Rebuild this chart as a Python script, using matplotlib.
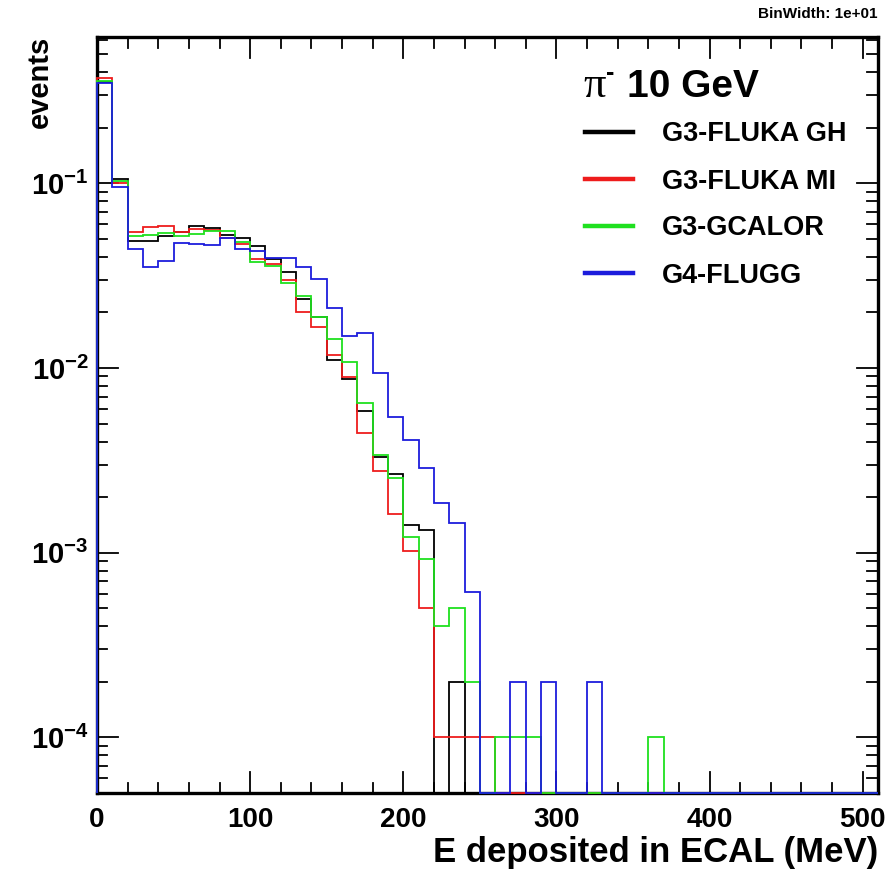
import numpy as np
import matplotlib
matplotlib.use("Agg")
import matplotlib.pyplot as plt
from matplotlib.lines import Line2D
from matplotlib.transforms import blended_transform_factory

plt.rcParams['font.family'] = ['Liberation Sans', 'DejaVu Sans']
plt.rcParams['mathtext.fontset'] = 'custom'
plt.rcParams['mathtext.bf'] = 'Liberation Sans:bold'
plt.rcParams['mathtext.rm'] = 'Liberation Sans'

# 10 MeV bins, 0 - 510 MeV
edges = np.arange(0, 520, 10)

g3_fluka_gh = [0.355, 0.105, 0.0489, 0.049, 0.052, 0.0547, 0.059, 0.057, 0.0525, 0.0503,
               0.0458, 0.039, 0.033, 0.0235, 0.019, 0.011, 0.00875, 0.00587, 0.00329, 0.00267,
               0.00141, 0.00132, 0, 2e-4, 0, 0, 0, 0, 0, 0,
               0, 0, 0, 0, 0, 0, 0, 0, 0, 0,
               0, 0, 0, 0, 0, 0, 0, 0, 0, 0, 0]
g3_fluka_mi = [0.37, 0.101, 0.0542, 0.0577, 0.059, 0.0547, 0.0565, 0.0561, 0.0509, 0.047,
               0.0388, 0.0365, 0.030, 0.0202, 0.0167, 0.0117, 0.0089, 0.00447, 0.00276, 0.00163,
               0.00102, 0.000505, 1e-4, 1e-4, 1e-4, 1e-4, 0, 0, 0, 0,
               0, 0, 0, 0, 0, 0, 0, 0, 0, 0,
               0, 0, 0, 0, 0, 0, 0, 0, 0, 0, 0]
g3_gcalor = [0.36, 0.103, 0.052, 0.0525, 0.0538, 0.052, 0.053, 0.0554, 0.0554, 0.0482,
             0.0375, 0.0357, 0.029, 0.0244, 0.019, 0.0143, 0.0108, 0.00644, 0.0034, 0.00255,
             0.00122, 0.00092, 0.0004, 0.0005, 2e-4, 0, 1e-4, 1e-4, 1e-4, 0,
             0, 0, 0, 0, 0, 0, 1e-4, 0, 0, 0,
             0, 0, 0, 0, 0, 0, 0, 0, 0, 0, 0]
g4_flugg = [0.35, 0.096, 0.0439, 0.0353, 0.038, 0.0474, 0.047, 0.0462, 0.0509, 0.0439,
            0.043, 0.0396, 0.0396, 0.0353, 0.0304, 0.0211, 0.0149, 0.0155, 0.0094, 0.0054,
            0.0041, 0.00288, 0.00185, 0.00144, 0.00061, 0, 0, 2e-4, 0, 2e-4,
            0, 0, 2e-4, 0, 0, 0, 0, 0, 0, 0,
            0, 0, 0, 0, 0, 0, 0, 0, 0, 0, 0]

labels = ["G3-FLUKA GH", "G3-FLUKA MI", "G3-GCALOR", "G4-FLUGG"]
colors = ["#000000", "#ee1c1c", "#1fe01f", "#1c1cdc"]
series = [g3_fluka_gh, g3_fluka_mi, g3_gcalor, g4_flugg]

ymin, ymax = 5e-5, 0.62
W, H = 895, 873
ax_l, ax_r, ax_t, ax_b = 97, 878, 37, 793

fig = plt.figure(figsize=(W / 100, H / 100), dpi=100)
ax = fig.add_axes([ax_l / W, 1 - ax_b / H, (ax_r - ax_l) / W, (ax_b - ax_t) / H])
ax.set_yscale("log")

for vals, c in zip(series, colors):
    v = np.array(vals, dtype=float)
    v[v <= 0] = ymin  # empty bins sit on the frame, ROOT style
    ax.stairs(v, edges, baseline=ymin, fill=False, color=c, linewidth=1.3,
              clip_on=False, zorder=5)

for s in ax.spines.values():
    s.set_linewidth(2.4)
    s.set_zorder(4)

# ROOT-like ticks drawn on all four sides, pointing inwards
tick_w = 1.3
maj_px, min_px = 21.0, 10.5
tx = blended_transform_factory(ax.transData, ax.transAxes)
ty = blended_transform_factory(ax.transAxes, ax.transData)
hx = (ax_b - ax_t)
wx = (ax_r - ax_l)

xmajor = list(range(0, 501, 100))
xminor = [t for t in range(20, 511, 20) if t % 100]
for x in xmajor + xminor:
    ln = (maj_px if x in xmajor else min_px) / hx
    ax.plot([x, x], [0, ln], transform=tx, color="k", lw=tick_w, clip_on=False, zorder=3)
    ax.plot([x, x], [1 - ln, 1], transform=tx, color="k", lw=tick_w, clip_on=False, zorder=3)

ymajor = [1e-4, 1e-3, 1e-2, 1e-1]
yminor = [m * 10.0 ** e for e in range(-5, 0) for m in range(2, 10)]
yminor = [m for m in yminor if ymin < m < ymax]
for y in ymajor + yminor:
    ln = (maj_px if y in ymajor else min_px) / wx
    ax.plot([0, ln], [y, y], transform=ty, color="k", lw=tick_w, clip_on=False, zorder=3)
    ax.plot([1 - ln, 1], [y, y], transform=ty, color="k", lw=tick_w, clip_on=False, zorder=3)

ax.set_xlim(0, 510)
ax.set_ylim(ymin, ymax)

ax.set_xticks(xmajor)
ax.set_xticklabels([str(t) for t in xmajor])
ax.set_yticks(ymajor)
ax.set_yticklabels([r"$\mathbf{10^{-4}}$", r"$\mathbf{10^{-3}}$",
                    r"$\mathbf{10^{-2}}$", r"$\mathbf{10^{-1}}$"])
ax.minorticks_off()
ax.tick_params(which="major", length=0)
ax.tick_params(axis="x", pad=10, labelsize=20)
ax.tick_params(axis="y", pad=6, labelsize=21)
for lab in ax.get_xticklabels():
    lab.set_fontweight("bold")

fig.text(878 / W, 1 - 862 / H, "E deposited in ECAL (MeV)", ha="right", va="baseline",
         fontsize=25, fontweight="bold")
fig.text(40 / W, 1 - 36 / H, "events", rotation=90, ha="center", va="top",
         fontsize=21, fontweight="bold")
fig.text(878 / W, 1 - 18 / H, "BinWidth: 1e+01", ha="right", va="baseline",
         fontsize=11, fontweight="bold")

# legend block
fig.text(583 / W, 1 - 97 / H, "\u03c0", family="Liberation Serif", fontsize=32,
         ha="left", va="baseline")
fig.text(606 / W, 1 - 80 / H, "-", fontsize=18, fontweight="bold", ha="left", va="baseline")
fig.text(627 / W, 1 - 97 / H, "10 GeV", fontsize=28, fontweight="bold",
         ha="left", va="baseline")
rows_y = [131.7, 179.3, 226.0, 273.3]
for lab, c, py in zip(labels, colors, rows_y):
    fy = 1 - py / H
    fig.add_artist(Line2D([585 / W, 633 / W], [fy, fy], color=c, linewidth=3.2,
                          transform=fig.transFigure))
    fig.text(662 / W, 1 - (py + 9.5) / H, lab, fontsize=19.5, fontweight="bold",
             ha="left", va="baseline")

fig.savefig("out.png", dpi=100)
